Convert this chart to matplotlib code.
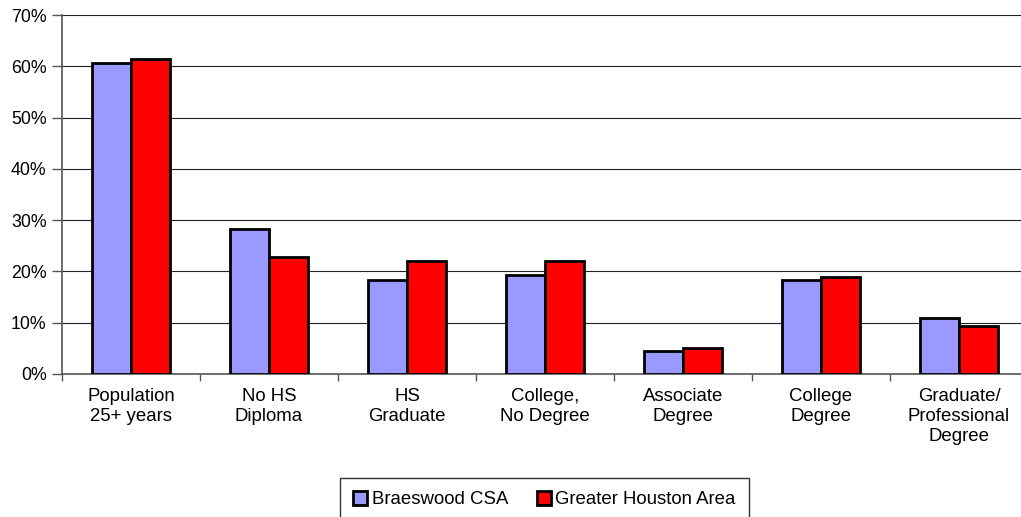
import matplotlib
matplotlib.use("Agg")
import matplotlib.pyplot as plt
import numpy as np
from matplotlib.ticker import FuncFormatter, FixedLocator

plt.rcParams['font.family'] = ['Liberation Sans', 'DejaVu Sans']

categories = ["Population\n25+ years", "No HS\nDiploma", "HS\nGraduate",
              "College,\nNo Degree", "Associate\nDegree", "College\nDegree",
              "Graduate/\nProfessional\nDegree"]
braeswood = [60.6, 28.3, 18.4, 19.4, 4.5, 18.3, 11.0]
houston = [61.5, 22.8, 22.0, 22.0, 5.1, 18.9, 9.4]
series_names = ["Braeswood CSA", "Greater Houston Area"]
colors = ["#9999FF", "#FF0000"]
yticks = [0, 10, 20, 30, 40, 50, 60, 70]

W, H = 1021, 517
fig = plt.figure(figsize=(W / 100, H / 100), dpi=100)
ax = fig.add_axes([62 / W, (H - 374) / H, (1028 - 62) / W, (374 - 15) / H])

x = np.arange(len(categories))
bw = 0.286
ax.bar(x - bw / 2, braeswood, bw, color=colors[0], edgecolor="black",
       linewidth=2.0, label=series_names[0], zorder=3)
ax.bar(x + bw / 2, houston, bw, color=colors[1], edgecolor="black",
       linewidth=2.0, label=series_names[1], zorder=3)

ax.set_xlim(-0.5, len(categories) - 0.5)
ax.set_ylim(0, 70)
ax.set_yticks(yticks)
ax.yaxis.set_major_formatter(FuncFormatter(lambda v, p: f"{int(v)}%"))
ax.yaxis.grid(True, color="#222222", linewidth=0.8, zorder=0)
ax.set_axisbelow(True)

ax.set_xticks(x)
ax.set_xticklabels(categories, fontsize=13.4, linespacing=1.24)
ax.xaxis.set_minor_locator(FixedLocator(np.arange(len(categories) + 1) - 0.5))
ax.tick_params(axis="x", which="major", length=0, pad=10)
ax.tick_params(axis="x", which="minor", length=5, width=1, color="#555555")
ax.tick_params(axis="y", length=7, width=1, color="#555555", pad=4, labelsize=12.8)

for s in ["top", "right"]:
    ax.spines[s].set_visible(False)
for s in ["left", "bottom"]:
    ax.spines[s].set_color("#555555")
    ax.spines[s].set_linewidth(1.2)

leg = fig.legend(loc="upper left", bbox_to_anchor=(340 / W, 1 - 478 / H),
                 ncol=2, fontsize=13.4, frameon=True, fancybox=False,
                 edgecolor="black", handlelength=0.75, handleheight=0.75,
                 handletextpad=0.25, columnspacing=1.55, borderpad=0.7,
                 borderaxespad=0)
leg.get_frame().set_linewidth(1.0)

fig.savefig("out.png", dpi=100)
